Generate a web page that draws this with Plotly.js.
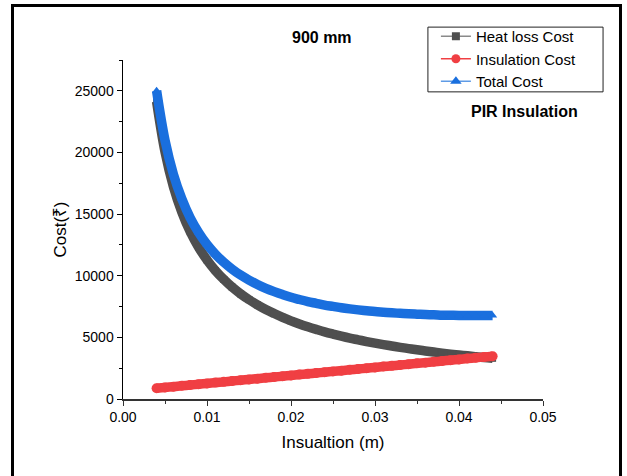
<!DOCTYPE html>
<html>
<head>
<meta charset="utf-8">
<script src="https://cdn.plot.ly/plotly-3.0.1.min.js"></script>
<style>
  html, body { margin: 0; padding: 0; background: #fff; }
  #wrap { position: relative; width: 627px; height: 476px; overflow: hidden; }
  #chart { width: 627px; height: 476px; }
  #frame { position: absolute; left: 11px; top: 4px; width: 611px; height: 520px;
           box-sizing: border-box; border: 3px solid #000; pointer-events: none; }
</style>
</head>
<body>
<div id="wrap">
  <div id="chart"></div>
  <div id="frame"></div>
</div>
<script>
// Insulation thickness (m)
const thickness = [0.004,0.005,0.006,0.007,0.008,0.009,0.010,0.011,0.012,0.013,
                   0.014,0.015,0.016,0.017,0.018,0.019,0.020,0.021,0.022,0.023,
                   0.024,0.025,0.026,0.027,0.028,0.029,0.030,0.031,0.032,0.033,
                   0.034,0.035,0.036,0.037,0.038,0.039,0.040,0.041,0.042,0.043,0.044];
// Heat loss cost (₹)
const heatLossCost = [24130,20050,17230,15170,13570,12310,11280,10420,9700,9070,
                      8530,8060,7640,7260,6930,6620,6340,6090,5860,5650,
                      5450,5270,5100,4940,4800,4660,4530,4410,4300,4190,
                      4090,3990,3900,3810,3720,3640,3570,3500,3430,3360,3300];
// Insulation cost (₹)
const insulationCost = [870,940,1000,1070,1130,1200,1260,1330,1390,1460,
                        1520,1590,1650,1720,1780,1850,1910,1980,2040,2110,
                        2170,2240,2300,2370,2430,2500,2560,2630,2690,2760,
                        2820,2890,2950,3020,3080,3150,3210,3280,3340,3410,3470];
// Total cost (₹)
const totalCost = [25000,20990,18230,16240,14700,13510,12540,11750,11090,10530,
                   10050,9650,9290,8980,8710,8470,8250,8070,7900,7760,
                   7620,7510,7400,7310,7230,7160,7090,7040,6990,6950,
                   6910,6880,6850,6830,6800,6790,6780,6780,6770,6770,6770];

const seriesNames = ['Heat loss Cost', 'Insulation Cost', 'Total Cost'];
const xTickVals = [0, 0.01, 0.02, 0.03, 0.04, 0.05];
const xTickText = ['0.00', '0.01', '0.02', '0.03', '0.04', '0.05'];
const yTickVals = [0, 5000, 10000, 15000, 20000, 25000];
const yTickText = ['0', '5000', '10000', '15000', '20000', '25000'];

const FONT = 'Arial, "Liberation Sans", "Noto Sans", sans-serif';
const colors = {
  heat:  {marker: '#4f4f4f', line: '#8a8a8a'},
  ins:   {marker: '#f03f43', line: '#f03f43'},
  total: {marker: '#1a6fde', line: '#5f9be6'}
};

const data = [
  {x: thickness, y: heatLossCost, type: 'scatter', mode: 'lines+markers', showlegend: false,
   line: {color: colors.heat.marker, width: 9.5, shape: 'spline', smoothing: 1},
   marker: {symbol: 'square', size: 7, color: colors.heat.marker}, cliponaxis: false},
  {x: thickness, y: insulationCost, type: 'scatter', mode: 'lines+markers', showlegend: false,
   line: {color: colors.ins.marker, width: 9.5, shape: 'spline', smoothing: 1},
   marker: {symbol: 'circle', size: 10, color: colors.ins.marker}, cliponaxis: false},
  {x: thickness, y: totalCost, type: 'scatter', mode: 'lines+markers', showlegend: false,
   line: {color: colors.total.marker, width: 9.5, shape: 'spline', smoothing: 1},
   marker: {symbol: 'triangle-up', size: 8, color: colors.total.marker}, cliponaxis: false},
  // legend entries
  {x: [null], y: [null], type: 'scatter', mode: 'lines+markers', name: seriesNames[0],
   line: {color: colors.heat.line, width: 1.5},
   marker: {symbol: 'square', size: 8, color: colors.heat.marker}},
  {x: [null], y: [null], type: 'scatter', mode: 'lines+markers', name: seriesNames[1],
   line: {color: colors.ins.line, width: 1.5},
   marker: {symbol: 'circle', size: 9, color: colors.ins.marker}},
  {x: [null], y: [null], type: 'scatter', mode: 'lines+markers', name: seriesNames[2],
   line: {color: colors.total.line, width: 1.5},
   marker: {symbol: 'triangle-up', size: 10, color: colors.total.marker}}
];

const layout = {
  width: 627, height: 476,
  margin: {l: 123, r: 84, t: 60, b: 77, pad: 0},
  paper_bgcolor: '#ffffff', plot_bgcolor: '#ffffff',
  font: {family: FONT, size: 14, color: '#000'},
  showlegend: true,
  legend: {x: 0.745, y: 1.118, xanchor: 'left', yanchor: 'top',
           bgcolor: 'rgba(0,0,0,0)', borderwidth: 0,
           font: {family: FONT, size: 15, color: '#000'},
           tracegroupgap: 0, itemwidth: 30},
  xaxis: {
    range: [0, 0.05], showgrid: false, zeroline: false,
    showline: true, linecolor: '#333', linewidth: 1.5,
    ticks: 'outside', ticklen: 5, tickwidth: 1, tickcolor: '#333',
    tickvals: xTickVals, ticktext: xTickText,
    tickfont: {family: FONT, size: 14, color: '#000'},
    minor: {ticks: 'outside', ticklen: 3, dtick: 0.005, tick0: 0, tickcolor: '#333', showgrid: false},
    title: {text: 'Insualtion (m)', font: {family: FONT, size: 17, color: '#000'}, standoff: 12}
  },
  yaxis: {
    range: [0, 27500], showgrid: false, zeroline: false,
    showline: true, linecolor: '#000', linewidth: 1.5,
    ticks: 'outside', ticklen: 5, tickwidth: 1, tickcolor: '#000',
    tickvals: yTickVals, ticktext: yTickText,
    tickfont: {family: FONT, size: 14, color: '#000'},
    minor: {ticks: 'outside', ticklen: 3, dtick: 2500, tick0: 0, tickcolor: '#000', showgrid: false},
    title: {text: 'Cost(₹)', font: {family: FONT, size: 17, color: '#000'}, standoff: 4}
  },
  shapes: [
    {type: 'rect', xref: 'paper', yref: 'paper',
     x0: 0.726, x1: 1.143, y0: 0.906, y1: 1.097,
     line: {color: '#222', width: 1}, fillcolor: 'rgba(0,0,0,0)', layer: 'above'}
  ],
  annotations: [
    {text: '<b>900 mm</b>', xref: 'paper', yref: 'paper', x: 0.474, y: 1.065,
     xanchor: 'center', yanchor: 'middle', showarrow: false,
     font: {family: FONT, size: 16, color: '#000'}},
    {text: '<b>PIR Insulation</b>', xref: 'paper', yref: 'paper', x: 0.957, y: 0.847,
     xanchor: 'center', yanchor: 'middle', showarrow: false,
     font: {family: FONT, size: 16, color: '#000'}}
  ]
};

Plotly.newPlot('chart', data, layout, {displayModeBar: false, staticPlot: true});
</script>
</body>
</html>
